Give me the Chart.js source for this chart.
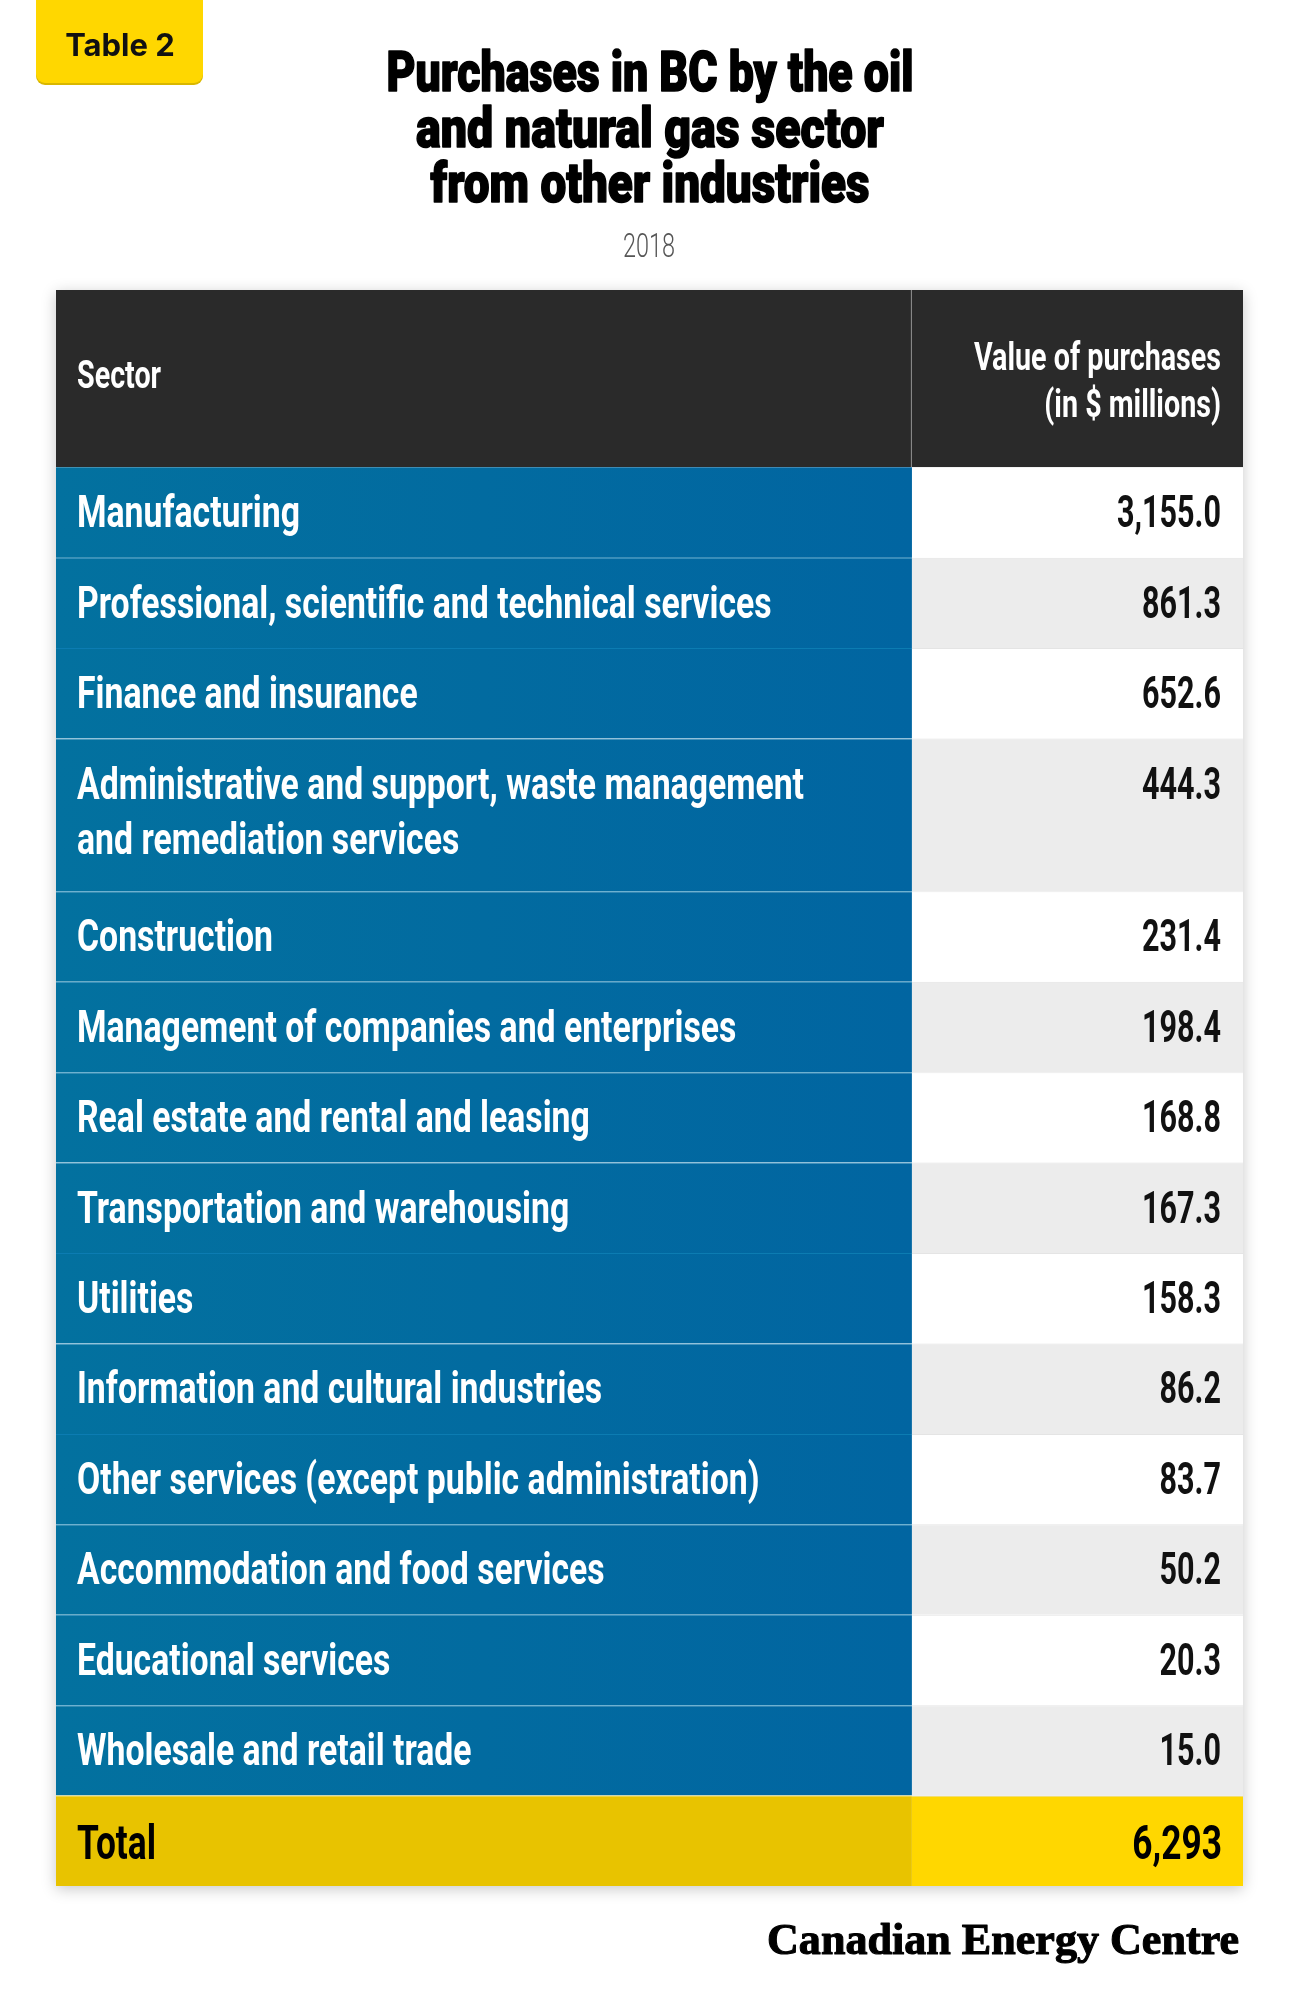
<!DOCTYPE html>
<html>
<head>
<meta charset="utf-8">
<script src="https://cdn.jsdelivr.net/npm/chart.js@4.4.1/dist/chart.umd.min.js"></script>
<style>
  html, body { margin: 0; padding: 0; background: #ffffff; }
  #wrap { width: 1300px; height: 2000px; position: relative; }
</style>
</head>
<body>
<div id="wrap"><canvas id="c"></canvas></div>
<script>
// ---------------- data ----------------
const badgeText = 'Table 2';
const titleLines = ['Purchases in BC by the oil', 'and natural gas sector', 'from other industries'];
const subtitle = '2018';
const headerSector = 'Sector';
const headerValue = ['Value of purchases', '(in $ millions)'];
const sectors = [
  'Manufacturing',
  'Professional, scientific and technical services',
  'Finance and insurance',
  ['Administrative and support, waste management', 'and remediation services'],
  'Construction',
  'Management of companies and enterprises',
  'Real estate and rental and leasing',
  'Transportation and warehousing',
  'Utilities',
  'Information and cultural industries',
  'Other services (except public administration)',
  'Accommodation and food services',
  'Educational services',
  'Wholesale and retail trade'
];
const purchases = [3155.0, 861.3, 652.6, 444.3, 231.4, 198.4, 168.8, 167.3, 158.3, 86.2, 83.7, 50.2, 20.3, 15.0];
const totalLabel = 'Total';
const totalValue = 6293;
const logoText = 'Canadian Energy Centre';

// ---------------- table model (row extents in row units) ----------------
const HEADER_SPAN = 1.96;
const LINE_EXTRA = 0.69;
const rows = [];
let cursor = 0;
rows.push({ kind: 'header', start: cursor, end: cursor + HEADER_SPAN });
cursor += HEADER_SPAN;
sectors.forEach((s, i) => {
  const lines = Array.isArray(s) ? s : [s];
  const span = 1 + LINE_EXTRA * (lines.length - 1);
  rows.push({ kind: 'body', idx: i, lines: lines, value: purchases[i], start: cursor, end: cursor + span });
  cursor += span;
});
rows.push({ kind: 'total', lines: [totalLabel], value: totalValue, start: cursor, end: cursor + 1 });
cursor += 1;
const Y_MAX = cursor;

const COL_SPLIT = 0.7211;                      // share of table width for the sector column
const colCenters = [COL_SPLIT / 2, (1 + COL_SPLIT) / 2];
const centerGap = colCenters[1] - colCenters[0];

const fmt1 = v => v.toLocaleString('en-US', { minimumFractionDigits: 1, maximumFractionDigits: 1 });
const fmt0 = v => v.toLocaleString('en-US', { maximumFractionDigits: 0 });

// ---------------- styling helpers ----------------
function leftFill(c) {
  const r = rows[c.dataIndex];
  if (!r) return '#026ca1';
  if (r.kind === 'header') return '#2a2a2a';
  if (r.kind === 'total') return '#e8c300';
  const chart = c.chart;
  const area = chart.chartArea;
  if (!area) return '#026ca1';
  const xs = chart.scales.x;
  const g = chart.ctx.createLinearGradient(xs.getPixelForValue(0), 0, xs.getPixelForValue(COL_SPLIT), 0);
  g.addColorStop(0, '#03719f');
  g.addColorStop(1, '#0165a1');
  return g;
}
function rightFill(c) {
  const r = rows[c.dataIndex];
  if (!r) return '#ffffff';
  if (r.kind === 'header') return '#2a2a2a';
  if (r.kind === 'total') return '#ffd700';
  return r.idx % 2 === 0 ? '#ffffff' : '#ececec';
}
function leftBorderW(c) {
  const r = rows[c.dataIndex];
  if (!r) return 0;
  if (r.kind === 'header') return { top: 0, bottom: 0, left: 0, right: 1 };
  if (r.idx === 0) return 0;
  return { top: 1, bottom: 0, left: 0, right: 0 };
}
function leftBorderC(c) {
  const r = rows[c.dataIndex];
  if (r && r.kind === 'header') return '#7a7a7a';
  if (r && r.kind === 'total') return '#eccc10';
  return '#0c7cb2';
}
function rightBorderW(c) {
  const r = rows[c.dataIndex];
  if (!r || r.kind === 'header' || r.idx === 0) return 0;
  return { top: 1, bottom: 0, left: 0, right: 0 };
}
function rightBorderC(c) {
  const r = rows[c.dataIndex];
  if (r && r.kind === 'total') return '#c9c9c9';
  return '#e4e4e4';
}

function textStyle(ctx, font, ref, target) {
  ctx.font = font;
  return target / ctx.measureText(ref).width;
}
function drawText(ctx, text, x, y, font, color, align, sx, stroke) {
  ctx.save();
  ctx.font = font;
  ctx.fillStyle = color;
  ctx.textAlign = align;
  ctx.textBaseline = 'alphabetic';
  ctx.translate(x, y);
  ctx.scale(sx, 1);
  ctx.fillText(text, 0, 0);
  if (stroke) {
    ctx.strokeStyle = color;
    ctx.lineWidth = stroke;
    ctx.lineJoin = 'round';
    ctx.strokeText(text, 0, 0);
  }
  ctx.restore();
}

// ---------------- plugins ----------------
const tableShadow = {
  id: 'tableShadow',
  beforeDatasetsDraw(chart) {
    const xs = chart.scales.x, ys = chart.scales.y, ctx = chart.ctx;
    const x0 = xs.getPixelForValue(0), x1 = xs.getPixelForValue(1);
    const y0 = ys.getPixelForValue(0), y1 = ys.getPixelForValue(Y_MAX);
    ctx.save();
    ctx.shadowColor = 'rgba(0,0,0,0.22)';
    ctx.shadowBlur = 14;
    ctx.shadowOffsetY = 3;
    ctx.fillStyle = '#ffffff';
    ctx.fillRect(x0, y0, x1 - x0, y1 - y0);
    ctx.restore();
  }
};

const tableText = {
  id: 'tableText',
  afterDatasetsDraw(chart) {
    const ctx = chart.ctx, xs = chart.scales.x, ys = chart.scales.y;
    const xL = xs.getPixelForValue(0) + 21;
    const xR = xs.getPixelForValue(1) - 22;
    const F_ROW = '700 45px Roboto';
    const F_HEAD = '700 38px Roboto';
    const F_TOT = '700 48px Roboto';
    const sRow = textStyle(ctx, F_ROW, 'Manufacturing', 223);
    const sVal = textStyle(ctx, F_ROW, '3,155.0', 104);
    const sHead = textStyle(ctx, F_HEAD, 'Value of purchases', 247);
    const sTot = textStyle(ctx, F_TOT, 'Total', 79);
    rows.forEach(r => {
      const top = ys.getPixelForValue(r.start);
      if (r.kind === 'header') {
        drawText(ctx, headerSector, xL, top + 98, F_HEAD, '#ffffff', 'left', sHead);
        headerValue.forEach((t, k) => drawText(ctx, t, xR, top + 80 + k * 47, F_HEAD, '#ffffff', 'right', sHead));
      } else if (r.kind === 'body') {
        r.lines.forEach((t, k) => drawText(ctx, t, xL, top + 60 + k * 55, F_ROW, '#ffffff', 'left', sRow));
        drawText(ctx, fmt1(r.value), xR, top + 60, F_ROW, '#111111', 'right', sVal);
      } else {
        drawText(ctx, r.lines[0], xL, top + 63, F_TOT, '#000000', 'left', sTot);
        drawText(ctx, fmt0(r.value), xR + 1, top + 63, F_TOT, '#000000', 'right', sTot);
      }
    });
  }
};

const TITLE_WIDTHS = [527, 468, 439];   // rendered line widths of the condensed title face
const decorations = {
  id: 'decorations',
  afterDraw(chart) {
    const ctx = chart.ctx;
    // badge
    ctx.save();
    ctx.fillStyle = '#d9b700';
    ctx.beginPath(); ctx.roundRect(36, -20, 167, 105, 9); ctx.fill();
    ctx.fillStyle = '#ffd700';
    ctx.beginPath(); ctx.roundRect(36, -20, 167, 103, 9); ctx.fill();
    ctx.restore();
    drawText(ctx, badgeText, 120, 56, '700 31px Inter', '#111111', 'center', 1);
    // title
    const F_T = '900 55px Roboto';
    titleLines.forEach((t, k) => {
      const sT = textStyle(ctx, F_T, t, TITLE_WIDTHS[k]);
      drawText(ctx, t, 650, 91 + k * 55.5, F_T, '#000000', 'center', sT, 1.6);
    });
    // subtitle
    const F_S = '300 34px Roboto';
    const sS = textStyle(ctx, F_S, subtitle, 52);
    drawText(ctx, subtitle, 649, 257, F_S, '#555555', 'center', sS);
    // logo
    const F_L = '700 44px "Liberation Serif"';
    const sL = textStyle(ctx, F_L, logoText, 472);
    drawText(ctx, logoText, 1239, 1954, F_L, '#000000', 'right', sL, 1.1);
  }
};

// ---------------- chart ----------------
new Chart(document.getElementById('c'), {
  type: 'bar',
  data: {
    datasets: [
      {
        label: 'Sector',
        data: rows.map(r => ({ x: colCenters[0], y: [r.start, r.end] })),
        backgroundColor: leftFill,
        borderColor: leftBorderC,
        borderWidth: leftBorderW,
        borderSkipped: false,
        grouped: false,
        categoryPercentage: 1,
        barPercentage: COL_SPLIT * 2 * (0.5 / centerGap)
      },
      {
        label: 'Value of purchases (in $ millions)',
        data: rows.map(r => ({ x: colCenters[1], y: [r.start, r.end] })),
        backgroundColor: rightFill,
        borderColor: rightBorderC,
        borderWidth: rightBorderW,
        borderSkipped: false,
        grouped: false,
        categoryPercentage: 1,
        barPercentage: (1 - COL_SPLIT) * 2 * (0.5 / centerGap)
      }
    ]
  },
  options: {
    responsive: true,
    maintainAspectRatio: false,
    animation: false,
    layout: { padding: { left: 56, right: 57, top: 290, bottom: 114 } },
    plugins: { legend: { display: false }, tooltip: { enabled: false }, title: { display: false } },
    scales: {
      x: {
        type: 'linear', min: 0, max: 1, offset: false, display: false,
        afterBuildTicks: s => { s.ticks = colCenters.map(v => ({ value: v })); }
      },
      y: {
        type: 'linear', min: 0, max: Y_MAX, reverse: true, display: false, beginAtZero: true
      }
    }
  },
  plugins: [tableShadow, tableText, decorations]
});
</script>
</body>
</html>
